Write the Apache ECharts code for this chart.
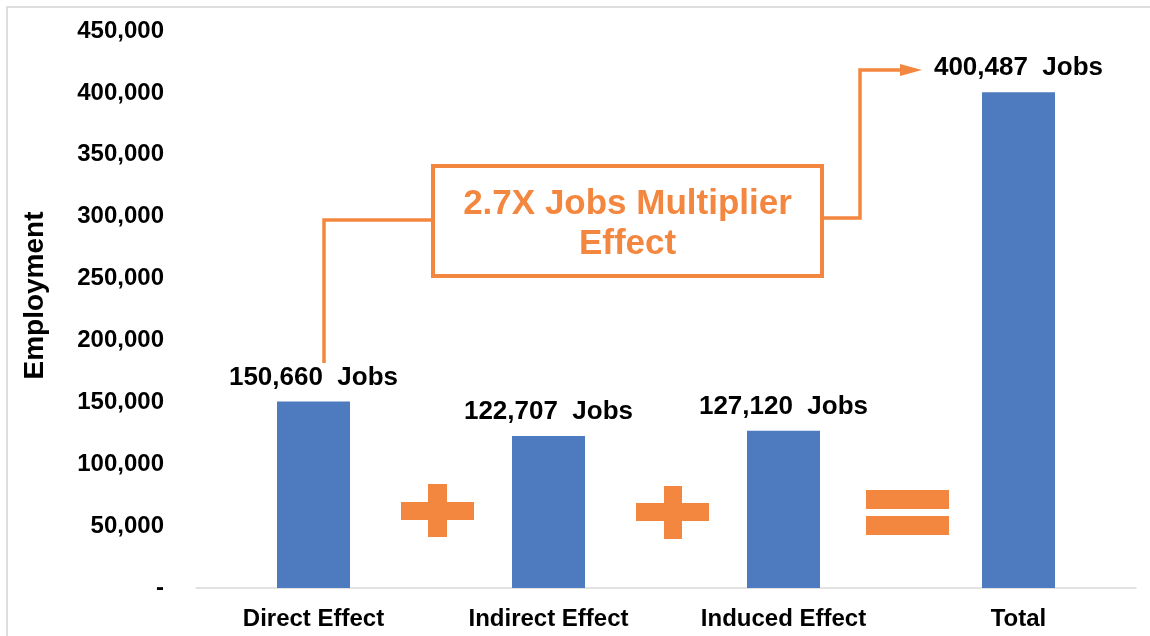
<!DOCTYPE html>
<html>
<head>
<meta charset="utf-8">
<script src="https://cdn.jsdelivr.net/npm/echarts@6/dist/echarts.min.js"></script>
<style>
  html, body { margin: 0; padding: 0; background: #fff; }
  #chart { width: 1150px; height: 636px; }
</style>
</head>
<body>
<div id="chart"></div>
<script>
  const categories = ['Direct Effect', 'Indirect Effect', 'Induced Effect', 'Total'];
  const jobs = [150660, 122707, 127120, 400487];
  const yMin = 0;
  const yMax = 450000;
  const yStep = 50000;

  const orange = '#f4873f';
  const blue = '#4e7bbf';
  const font = 'Arial, "Liberation Sans", sans-serif';

  const chart = echarts.init(document.getElementById('chart'));

  const option = {
    animation: false,
    grid: {
      left: 196,
      right: 14,
      top: 31,
      bottom: 48
    },
    xAxis: {
      type: 'category',
      data: categories,
      axisLine: { lineStyle: { color: '#d9d9d9', width: 1.5 } },
      axisTick: { show: false },
      axisLabel: {
        color: '#000',
        fontSize: 24,
        fontWeight: 'bold',
        fontFamily: font,
        margin: 19
      }
    },
    yAxis: {
      type: 'value',
      min: yMin,
      max: yMax,
      interval: yStep,
      name: 'Employment',
      nameLocation: 'middle',
      nameGap: 147,
      nameRotate: 90,
      nameTextStyle: {
        color: '#000',
        fontSize: 28,
        fontWeight: 'bold',
        fontFamily: font,
        padding: [0, 0, 0, 28]
      },
      splitLine: { show: false },
      axisLine: { show: false },
      axisTick: { show: false },
      axisLabel: {
        color: '#000',
        fontSize: 24,
        fontWeight: 'bold',
        fontFamily: font,
        margin: 32,
        formatter: function (v) {
          return v === 0 ? '-' : v.toLocaleString('en-US');
        }
      }
    },
    series: [
      {
        type: 'bar',
        data: jobs,
        barWidth: 73,
        itemStyle: { color: blue },
        label: {
          show: true,
          position: 'top',
          distance: 11,
          color: '#000',
          fontSize: 26,
          fontWeight: 'bold',
          fontFamily: font,
          formatter: function (p) {
            return p.value.toLocaleString('en-US') + '  Jobs';
          }
        }
      }
    ],
    graphic: [
      // outer frame
      {
        type: 'rect',
        shape: { x: 7, y: 7, width: 1160, height: 660 },
        style: { fill: null, stroke: '#d4d4d4', lineWidth: 1.5 },
        silent: true
      },
      // connectors
      {
        type: 'polyline',
        shape: { points: [[324, 363], [324, 220], [433, 220]] },
        style: { stroke: orange, lineWidth: 3.5, fill: null }
      },
      {
        type: 'polyline',
        shape: { points: [[822, 218], [860, 218], [860, 70], [905, 70]] },
        style: { stroke: orange, lineWidth: 3.5, fill: null }
      },
      {
        type: 'polygon',
        shape: { points: [[900, 64], [922, 70], [900, 76]] },
        style: { fill: orange }
      },
      // multiplier box
      {
        type: 'rect',
        shape: { x: 433, y: 166, width: 389, height: 110 },
        style: { fill: '#fff', stroke: orange, lineWidth: 4 }
      },
      {
        type: 'text',
        x: 627.5,
        y: 224,
        style: {
          text: '2.7X Jobs Multiplier\nEffect',
          fill: orange,
          font: 'bold 35px ' + font,
          lineHeight: 40,
          align: 'center',
          verticalAlign: 'middle'
        }
      },
      // plus signs
      { type: 'rect', shape: { x: 401, y: 502, width: 73, height: 18 }, style: { fill: orange } },
      { type: 'rect', shape: { x: 428, y: 484, width: 19, height: 53 }, style: { fill: orange } },
      { type: 'rect', shape: { x: 636, y: 503, width: 73, height: 18 }, style: { fill: orange } },
      { type: 'rect', shape: { x: 664, y: 486, width: 18, height: 53 }, style: { fill: orange } },
      // equals sign
      { type: 'rect', shape: { x: 866, y: 490, width: 83, height: 19 }, style: { fill: orange } },
      { type: 'rect', shape: { x: 866, y: 516, width: 83, height: 19 }, style: { fill: orange } }
    ]
  };

  chart.setOption(option);
  window.addEventListener('resize', function () {
    chart.resize();
  });
</script>
</body>
</html>
